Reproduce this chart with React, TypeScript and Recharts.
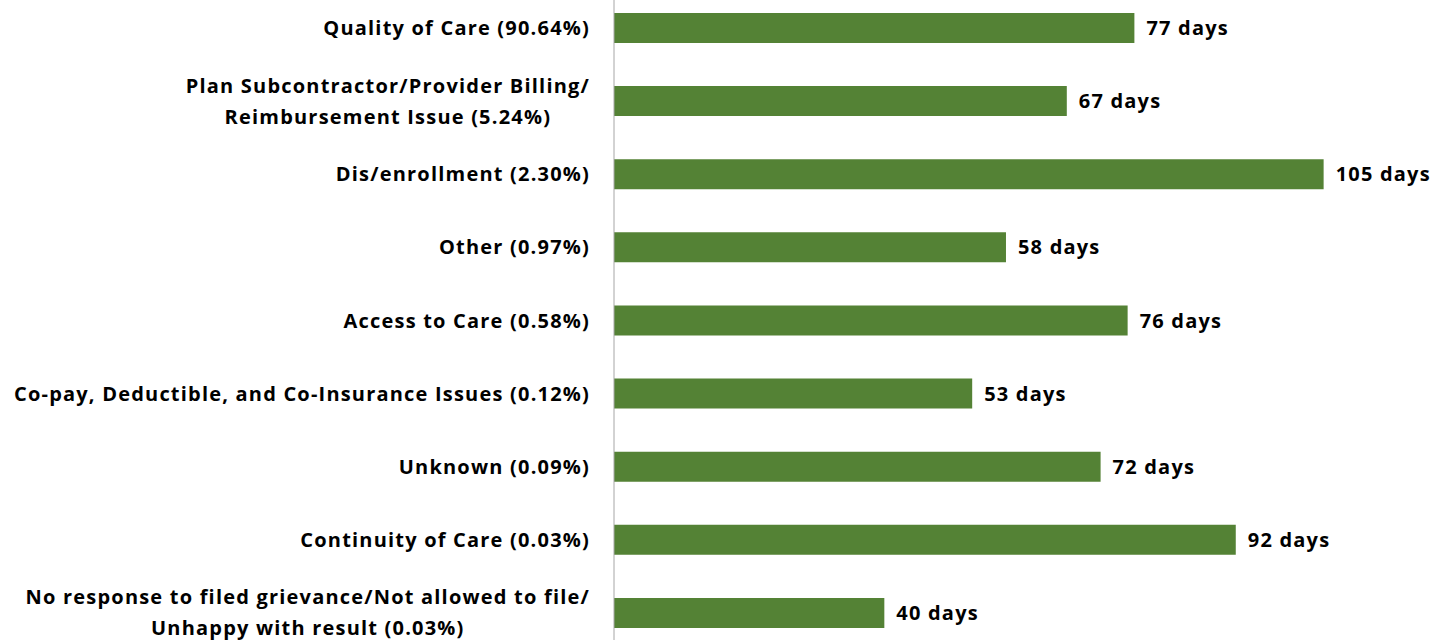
import { BarChart, Bar, XAxis, YAxis, LabelList } from "recharts";

const categories = [
  "Quality of Care (90.64%)",
  "Plan Subcontractor/Provider Billing/\nReimbursement Issue (5.24%)",
  "Dis/enrollment (2.30%)",
  "Other (0.97%)",
  "Access to Care (0.58%)",
  "Co-pay, Deductible, and Co-Insurance Issues (0.12%)",
  "Unknown (0.09%)",
  "Continuity of Care (0.03%)",
  "No response to filed grievance/Not allowed to file/\nUnhappy with result (0.03%)",
];
const days = [77, 67, 105, 58, 76, 53, 72, 92, 40];

const data = categories.map((name, i) => ({ name, days: days[i] }));

const FONT = "'Open Sans', sans-serif";

function CategoryTick({ x, y, payload }: any) {
  const lines = String(payload.value).split("\n");
  return (
    <foreignObject x={x - 600} y={y - 40} width={600} height={80}>
      <div style={{ display: "flex", alignItems: "center", justifyContent: "flex-end", height: "100%" }}>
        <div style={{ textAlign: "center", fontFamily: FONT, fontWeight: 700, fontSize: 20, letterSpacing: 1.2, lineHeight: "31px", color: "#000", marginRight: -1 }}>
          {lines.map((l, i) => <div key={i} style={{ whiteSpace: "nowrap" }}>{l}</div>)}
        </div>
      </div>
    </foreignObject>
  );
}

export default function App() {
  return (
    <div style={{ position: "absolute", left: 0, top: -9, width: 1436, height: 658, background: "#fff" }}>
      <BarChart layout="vertical" width={1436} height={658} data={data}
        margin={{ top: 0, right: 11, left: 0, bottom: 0 }} barCategoryGap={0}>
        <XAxis type="number" domain={[0, 120]} hide />
        <YAxis type="category" dataKey="name" width={614} tickLine={false} tickSize={0} tickMargin={25}
          axisLine={{ stroke: "#a6a6a6", strokeWidth: 1 }} tick={<CategoryTick />} interval={0} />
        <Bar dataKey="days" fill="#548235" barSize={30} isAnimationActive={false}>
          <LabelList dataKey="days" position="right" offset={12}
            formatter={(v: any) => `${v} days`}
            style={{ fontFamily: FONT, fontWeight: 700, fontSize: 20, letterSpacing: 1.2, fill: "#000" }} />
        </Bar>
      </BarChart>
    </div>
  );
}
